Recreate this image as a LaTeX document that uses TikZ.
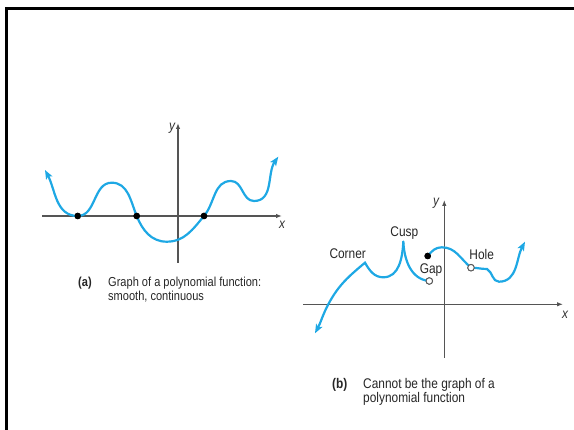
\documentclass[tikz,border=0pt]{standalone}
\usepackage{fontspec}
\setmainfont{Liberation Sans}
\newfontfamily\cond[FakeStretch=0.85]{Liberation Sans}
\usetikzlibrary{arrows.meta}
\definecolor{curveblue}{RGB}{30,168,228}
\definecolor{axisgray}{RGB}{85,85,85}
\tikzset{
  axis/.style={draw=axisgray,line width=1.1pt,-{Latex[length=6pt,width=4.5pt,fill=black]}},
  curve/.style={draw=curveblue,line width=2.2pt,line cap=round},
  tipend/.style={-{Stealth[length=9pt,width=7pt,inset=2pt]}},
  tipstart/.style={{Stealth[length=9pt,width=7pt,inset=2pt]}-},
  tipboth/.style={{Stealth[length=9pt,width=7pt,inset=2pt]}-{Stealth[length=9pt,width=7pt,inset=2pt]}},
  dot/.style={circle,fill=black,inner sep=0pt,minimum size=6.5pt},
  odot/.style={circle,draw=axisgray,fill=white,line width=0.9pt,inner sep=0pt,minimum size=6.5pt},
  lab/.style={font=\cond\fontsize{14}{15}\selectfont,text=black!85,inner sep=0pt},
  axlab/.style={font=\cond\itshape\fontsize{14}{15}\selectfont,text=black!80,inner sep=0pt},
  capt/.style={font=\cond\fontsize{13}{13.5}\selectfont,text=black!85,inner sep=0pt,align=left}
}
\begin{document}
\begin{tikzpicture}[x=1pt,y=1pt]
\useasboundingbox (0,0) rectangle (574,-430);
% frame
\draw[line width=3pt] (6.5,-430) -- (6.5,-8.5) -- (574,-8.5);

% ---------- graph (a) ----------
\coordinate (axL) at (42,-216);
\coordinate (axR) at (282,-216);
\coordinate (ayB) at (178,-263);
\coordinate (ayT) at (178,-123);
\draw[axis] (axL) -- (axR);
\draw[axis] (ayB) -- (ayT);
\node[axlab] (ax) at (282,-225) {x};
\node[axlab] (ay) at (172,-128) {y};

\coordinate (a0) at (45,-170);
\coordinate (a2) at (111.7,-182.7);
\coordinate (a4) at (166.7,-241.7);
\coordinate (a6) at (231,-181);
\coordinate (a7) at (254,-201);
\coordinate (a8) at (278.3,-156.7);
\node[dot] (r1) at (77.7,-216) {};
\node[dot] (r2) at (136.7,-216) {};
\node[dot] (r3) at (204,-216) {};
\draw[curve,tipboth] (a0) to[out=-62,in=180] (r1.center)
  to[out=0,in=180] (a2)
  to[out=0,in=112] (r2.center)
  to[out=-68,in=180] (a4)
  to[out=0,in=-130] (r3.center)
  to[out=50,in=180] (a6)
  to[out=0,in=180] (a7)
  to[out=0,in=-125] (a8);
\node[dot] at (r1) {};
\node[dot] at (r2) {};
\node[dot] at (r3) {};

\node[capt,anchor=north west] (ca) at (78,-277) {\textbf{(a)}};
\node[capt,anchor=north west] (cat) at (108,-277) {Graph of a polynomial function:\\smooth, continuous};

% ---------- graph (b) ----------
\coordinate (bxL) at (303,-304.3);
\coordinate (bxR) at (563,-304.3);
\coordinate (byB) at (444.3,-358);
\coordinate (byT) at (444.3,-200);
\draw[axis] (bxL) -- (bxR);
\draw[axis] (byB) -- (byT);
\node[axlab] (bx) at (565,-315) {x};
\node[axlab] (by) at (436,-203) {y};

\coordinate (b0) at (315,-333.3);
\coordinate (b1) at (328.3,-304.3);
\coordinate (b2) at (365,-262.7);
\coordinate (b3) at (383.3,-277.3);
\coordinate (b4) at (403.3,-241.7);
\coordinate (b7) at (441.7,-247.3);
\coordinate (b9) at (487,-269);
\coordinate (b10) at (499,-281.7);
\coordinate (b11) at (525,-241.7);
\node[odot] (gapo) at (429.3,-281) {};
\node[dot] (gapf) at (427.7,-256) {};
\node[odot] (hole) at (471,-267.7) {};

\draw[curve,tipstart] (b0) to[out=62,in=-118] (b1)
  to[out=62,in=-140] (b2)
  to[out=-60,in=180] (b3)
  to[out=0,in=-93] (b4);
\draw[curve] (b4) to[out=-87,in=175] (gapo.center);
\draw[curve,tipend] (gapf.center) to[out=50,in=180] (b7)
  to[out=0,in=140] (hole.center)
  to[out=0,in=180] (b9)
  to[out=-30,in=180] (b10)
  to[out=0,in=-118] (b11);
\node[odot] at (gapo) {};
\node[dot] at (gapf) {};
\node[odot] at (hole) {};

\node[lab] (corner) at (347.7,-253.3) {Corner};
\node[lab] (cusp) at (404.3,-233.3) {Cusp};
\node[lab] (gap) at (431,-270) {Gap};
\node[lab] (holel) at (481.7,-254) {Hole};

\node[capt,anchor=north west,font=\cond\fontsize{14}{14}\selectfont] (cb) at (332,-378) {\textbf{(b)}};
\node[capt,anchor=north west,font=\cond\fontsize{14}{14}\selectfont] (cbt) at (363,-378) {Cannot be the graph of a\\polynomial function};
\end{tikzpicture}
\end{document}
